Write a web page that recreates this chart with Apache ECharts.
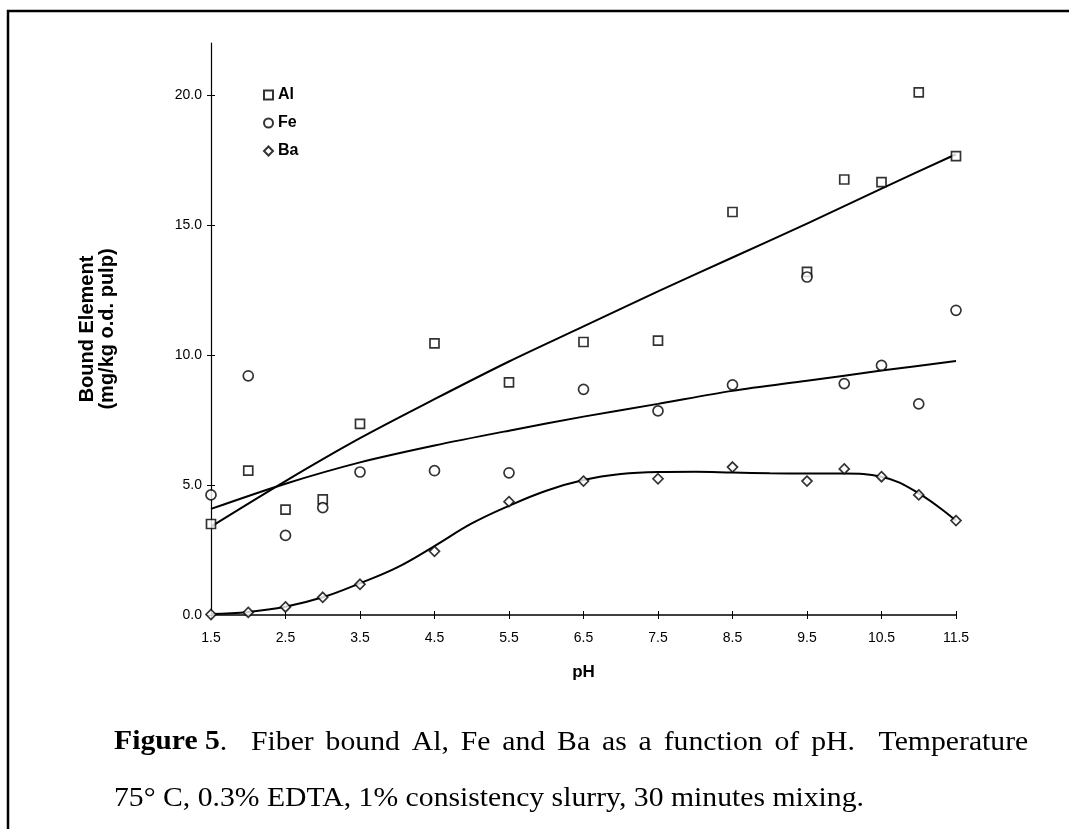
<!DOCTYPE html>
<html>
<head>
<meta charset="utf-8">
<script src="https://cdn.jsdelivr.net/npm/echarts@6/dist/echarts.min.js"></script>
<style>
html,body{margin:0;padding:0;background:#fff;}
#chart{width:1069px;height:829px;}
</style>
</head>
<body>
<div id="chart"></div>
<script>
// ---- data ----
const ph = [1.5, 2.0, 2.5, 3.0, 3.5, 4.5, 5.5, 6.5, 7.5, 8.5, 9.5, 10.0, 10.5, 11.0, 11.5];
const alValues = [3.5, 5.55, 4.05, 4.45, 7.35, 10.45, 8.95, 10.5, 10.55, 15.5, 13.2, 16.75, 16.65, 20.1, 17.65];
const feValues = [4.62, 9.2, 3.06, 4.13, 5.5, 5.55, 5.47, 8.68, 7.85, 8.85, 13.0, 8.9, 9.6, 8.12, 11.72];
const baValues = [0.02, 0.1, 0.31, 0.68, 1.18, 2.45, 4.36, 5.15, 5.24, 5.69, 5.15, 5.62, 5.32, 4.62, 3.63];

// fitted curves as drawn in the reference
const fitX = [1.5, 2.5, 3.5, 4.5, 5.5, 6.5, 7.5, 8.5, 9.5, 10.5, 11.5];
const alFit = [3.4, 5.15, 6.8, 8.3, 9.75, 11.1, 12.45, 13.75, 15.05, 16.4, 17.72];
const feFit = [4.08, 5.05, 5.87, 6.52, 7.09, 7.63, 8.12, 8.62, 9.01, 9.4, 9.77];
const baFitX = [1.5, 2.0, 2.5, 3.0, 3.5, 4.0, 4.5, 5.0, 5.5, 6.0, 6.5, 7.0, 7.5, 8.0, 8.5, 9.0, 9.5, 10.0, 10.5, 11.0, 11.5];
const baFit = [0.04, 0.12, 0.32, 0.68, 1.22, 1.83, 2.65, 3.52, 4.2, 4.78, 5.19, 5.42, 5.5, 5.51, 5.48, 5.45, 5.44, 5.44, 5.32, 4.68, 3.63];

const xTicks = [1.5, 2.5, 3.5, 4.5, 5.5, 6.5, 7.5, 8.5, 9.5, 10.5, 11.5];
const yTicks = [0, 5, 10, 15, 20];

const xName = 'pH';
const yName = 'Bound Element\n(mg/kg o.d. pulp)';
const captionBold = 'Figure 5';
const captionLine1 = '.  Fiber bound Al, Fe and Ba as a function of pH.  Temperature';
const captionLine2 = '75\u00b0 C, 0.3% EDTA, 1% consistency slurry, 30 minutes mixing.';

const pairs = (xs, ys) => xs.map((x, i) => [x, ys[i]]);

const SANS = '"Liberation Sans", Arial, sans-serif';
const SERIF = '"Liberation Serif", "Times New Roman", serif';

const chart = echarts.init(document.getElementById('chart'), null, {renderer: 'canvas'});

const markerStyle = {color: '#fff', borderColor: '#000', borderWidth: 1.7};
const fitLine = (name, xs, ys, smooth) => ({
  name: name, type: 'line', data: pairs(xs, ys), smooth: smooth,
  showSymbol: false, symbol: 'none', silent: true,
  lineStyle: {color: '#000', width: 2}, z: 1
});

// justified first caption line: widen the spaces
const justified = '{b|' + captionBold + '}' + captionLine1.split(' ').join('{s| }');

chart.setOption({
  animation: false,
  backgroundColor: '#fff',
  grid: {left: 211, right: 113, top: 43, bottom: 214, containLabel: false},
  legend: {
    orient: 'vertical', left: 258, top: 82,
    itemWidth: 9, itemHeight: 9, itemGap: 12,
    textStyle: {fontFamily: SANS, fontWeight: 'bold', fontSize: 16, color: '#000'},
    data: [{name: 'Al', icon: 'rect'}, {name: 'Fe', icon: 'circle'}, {name: 'Ba', icon: 'diamond'}],
    selectedMode: false
  },
  xAxis: [{
    type: 'value', min: 1.5, max: 11.5,
    name: xName, nameLocation: 'middle', nameGap: 49,
    nameTextStyle: {fontFamily: SANS, fontWeight: 'bold', fontSize: 17, color: '#000'},
    axisLine: {lineStyle: {color: '#000', width: 1.5}},
    axisTick: {show: true, length: 4, customValues: xTicks, lineStyle: {color: '#000'}},
    axisLabel: {customValues: xTicks, margin: 16, fontFamily: SANS, fontSize: 14, color: '#000',
      formatter: v => v.toFixed(1)},
    splitLine: {show: false}
  }, {
    type: 'value', min: 1.5, max: 11.5, position: 'bottom',
    axisLine: {show: false},
    axisTick: {show: true, inside: true, length: 4, customValues: xTicks, lineStyle: {color: '#000'}},
    axisLabel: {show: false}, splitLine: {show: false}
  }],
  yAxis: [{
    type: 'value', min: 0, max: 22,
    name: yName, nameLocation: 'middle', nameGap: 94, nameRotate: 90,
    nameTextStyle: {fontFamily: SANS, fontWeight: 'bold', fontSize: 20, color: '#000', lineHeight: 20, align: 'center'},
    axisLine: {show: true, lineStyle: {color: '#000', width: 1.2}},
    axisTick: {show: true, length: 4, customValues: yTicks, lineStyle: {color: '#000'}},
    axisLabel: {customValues: yTicks, margin: 9, fontFamily: SANS, fontSize: 14, color: '#000',
      formatter: v => v.toFixed(1)},
    splitLine: {show: false}
  }, {
    type: 'value', min: 0, max: 22, position: 'left',
    axisLine: {show: false},
    axisTick: {show: true, inside: true, length: 4, customValues: yTicks, lineStyle: {color: '#000'}},
    axisLabel: {show: false}, splitLine: {show: false}
  }],
  series: [
    fitLine('Al fit', fitX, alFit, 0.3),
    fitLine('Fe fit', fitX, feFit, 0.3),
    fitLine('Ba fit', baFitX, baFit, 0.4),
    {name: 'Al', type: 'scatter', data: pairs(ph, alValues), symbol: 'rect', symbolSize: 9,
      itemStyle: markerStyle, z: 3},
    {name: 'Fe', type: 'scatter', data: pairs(ph, feValues), symbol: 'circle', symbolSize: 10,
      itemStyle: markerStyle, z: 3},
    {name: 'Ba', type: 'scatter', data: pairs(ph, baValues), symbol: 'diamond', symbolSize: 10,
      itemStyle: markerStyle, z: 3}
  ],
  graphic: [
    {type: 'rect', shape: {x: 8, y: 11, width: 1200, height: 1000},
      style: {fill: 'none', stroke: '#000', lineWidth: 2.5}, silent: true},
    {type: 'text', x: 114, y: 729, scaleX: 1.1,
      style: {
        text: justified,
        font: '27px ' + SERIF, fill: '#000',
        rich: {
          b: {fontFamily: SERIF, fontWeight: 'bold', fontSize: 27, fill: '#000'},
          s: {fontFamily: SERIF, fontSize: 27, width: 10.8}
        }
      }},
    {type: 'text', x: 114, y: 785, scaleX: 1.1,
      style: {text: captionLine2, font: '27px ' + SERIF, fill: '#000'}}
  ]
});
</script>
</body>
</html>
